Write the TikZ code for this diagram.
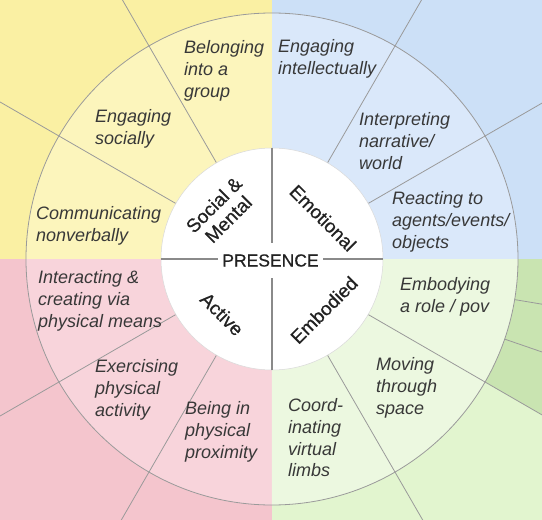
\documentclass[tikz,border=0pt]{standalone}
\usepackage{fontspec}
\setmainfont{Liberation Sans}
\newfontfamily\medfont{Liberation Sans}[FakeBold=0.6]
\definecolor{yelO}{HTML}{FAF0A3}
\definecolor{yelI}{HTML}{FCF5BC}
\definecolor{bluO}{HTML}{CCE0F7}
\definecolor{bluI}{HTML}{DAE8FA}
\definecolor{pnkO}{HTML}{F4C5CD}
\definecolor{pnkI}{HTML}{F8D4DB}
\definecolor{grnO}{HTML}{E2F5CF}
\definecolor{grnI}{HTML}{ECF8E0}
\definecolor{grnD}{HTML}{C9E4B1}
\definecolor{txt}{HTML}{383838}
\definecolor{coretxt}{HTML}{222222}
\definecolor{linegray}{HTML}{9A9A9A}
\definecolor{crossgray}{HTML}{8A8A8A}
\begin{document}
\begin{tikzpicture}[x=1pt,y=1pt,
  spoke/.style={draw=linegray, line width=0.8pt},
  ringline/.style={draw=linegray, line width=0.8pt},
  crossline/.style={draw=crossgray, line width=2pt},
  ringlabel/.style={anchor=west, inner sep=0pt, align=left, text=txt,
    font=\fontsize{18}{21.7}\selectfont\itshape},
  corelabel/.style={inner sep=0pt, align=center, text=coretxt,
    font=\medfont\fontsize{19}{20.5}\selectfont},
]
\useasboundingbox (-272,-261) rectangle (270,259);
\begin{scope}
\clip (-272,-261) rectangle (270,259);
% outer quadrant backgrounds
\fill[yelO] (-272,0) rectangle (0,259);
\fill[bluO] (0,0) rectangle (270,259);
\fill[pnkO] (-272,-261) rectangle (0,0);
\fill[grnO] (0,-261) rectangle (270,0);
\fill[grnD] (0,0) -- (0:600) -- (-30:600) -- cycle;
% ring sectors
\fill[bluI] (0,0) -- (0:246) arc[start angle=0, end angle=90, radius=246] -- cycle;
\fill[yelI] (0,0) -- (90:246) arc[start angle=90, end angle=180, radius=246] -- cycle;
\fill[pnkI] (0,0) -- (180:246) arc[start angle=180, end angle=270, radius=246] -- cycle;
\fill[grnI] (0,0) -- (270:246) arc[start angle=270, end angle=360, radius=246] -- cycle;
% spokes
\foreach \a in {30,60,120,150,210,240,300,330}
  \draw[spoke] (\a:111) -- (\a:600);
\foreach \a in {-9.5,-19}
  \draw[spoke] (\a:246) -- (\a:600);
\draw[ringline] (0,0) circle[radius=246];
\end{scope}
% core
\node[circle, minimum size=222pt, inner sep=0pt, fill=white, draw=gray!30, line width=0.5pt] (core) at (0,0) {};
\node[font=\medfont\fontsize{17.5}{20}\selectfont, text=coretxt, inner xsep=4pt, inner ysep=0pt,
      minimum height=35pt] (presence) at (-1.5,-1.5) {PRESENCE};
\draw[crossline] (core.north) -- (presence.north -| core.north);
\draw[crossline] (core.south) -- (presence.south -| core.south);
\draw[crossline] (core.west) -- (presence.west |- core.west);
\draw[crossline] (core.east) -- (presence.east |- core.east);
\node[corelabel, rotate=45] (social) at (-51,47) {Social \&\\Mental};
\node[corelabel, rotate=-45] (emotional) at (51,41) {Emotional};
\node[corelabel, rotate=-45] (active) at (-50,-55) {Active};
\node[corelabel, rotate=45] (embodied) at (52,-51) {Embodied};
% ring labels
\node[ringlabel] (l1) at (-88,188) {Belonging\\into a\\group};
\node[ringlabel] (l2) at (-177,130) {Engaging\\socially};
\node[ringlabel] (l3) at (-236,33) {Communicating\\nonverbally};
\node[ringlabel] (l4) at (6,200) {Engaging\\intellectually};
\node[ringlabel] (l5) at (87,118) {Interpreting\\narrative/\\world};
\node[ringlabel] (l6) at (120,37) {Reacting to\\agents/events/\\objects};
\node[ringlabel] (l7) at (-234,-42) {Interacting \&\\creating via\\physical means};
\node[ringlabel] (l8) at (-177,-131) {Exercising\\physical\\activity};
\node[ringlabel] (l9) at (-87,-173) {Being in\\physical\\proximity};
\node[ringlabel] (l10) at (128,-38) {Embodying\\a role / pov};
\node[ringlabel] (l11) at (104,-129) {Moving\\through\\space};
\node[ringlabel] (l12) at (16,-179) {Coord-\\inating\\virtual\\limbs};
\end{tikzpicture}
\end{document}
